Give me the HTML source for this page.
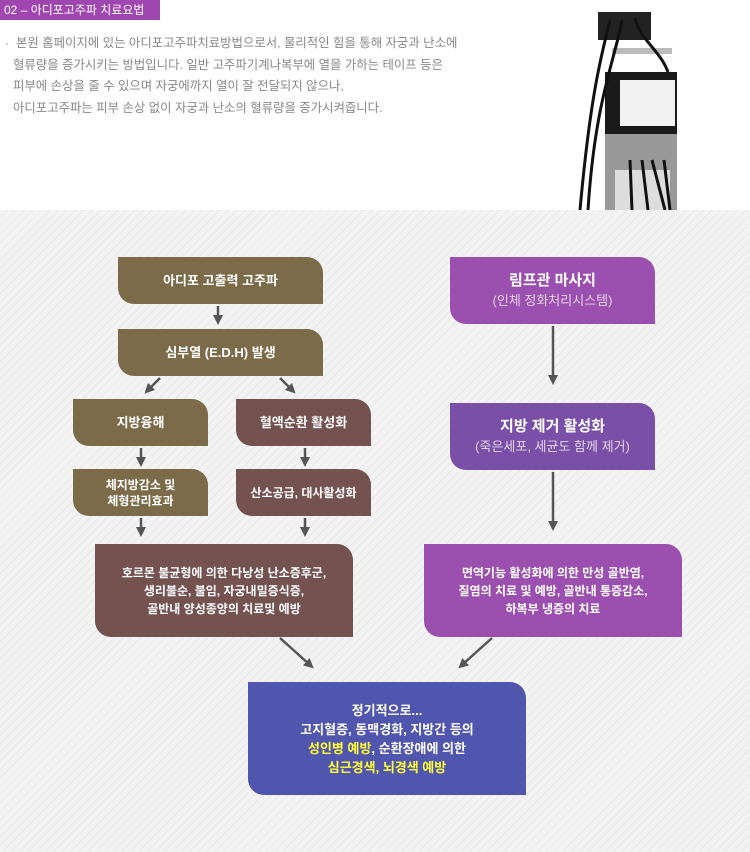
<!DOCTYPE html>
<html><head><meta charset="utf-8"><style>
body{margin:0;width:750px;height:852px;position:relative;overflow:hidden;background:#fff;font-family:"Liberation Sans","Noto Sans CJK KR",sans-serif}
.bg{position:absolute;left:0;top:210px;width:750px;height:642px;background:repeating-linear-gradient(135deg,#f3f3f3 0 5px,#e9e9e9 5px 6px)}
.b{position:absolute;color:#fff;display:flex;flex-direction:column;align-items:center;justify-content:center;text-align:center;border-radius:0 16px 0 16px;font-weight:bold;font-size:13px;line-height:18px}
.br{background:#7b6b48}.rd{background:#735250}.pu{background:#9b4fae}.pu2{background:#7a4fa8}.bl{background:#5055ae}
.s{font-weight:normal;color:#e6d4ee;font-size:13px}
.y{color:#ffff33}
p{margin:0}
</style></head><body>
<div style="position:absolute;left:0;top:0;width:160px;height:20px;background:#a046b0;color:#fff;font-size:12px;line-height:20px;padding-left:4px;box-sizing:border-box">02 – 아디포고주파 치료요법</div>
<div style="position:absolute;left:5px;top:33px;color:#888;font-size:12.4px;line-height:21.5px">
<div>·&nbsp;&nbsp;본원 홈페이지에 있는 아디포고주파치료방법으로서, 물리적인 힘을 통해 자궁과 난소에</div>
<div style="padding-left:8px">혈류량을 증가시키는 방법입니다. 일반 고주파기계나복부에 열을 가하는 테이프 등은</div>
<div style="padding-left:8px">피부에 손상을 줄 수 있으며 자궁에까지 열이 잘 전달되지 않으나,</div>
<div style="padding-left:8px">아디포고주파는 피부 손상 없이 자궁과 난소의 혈류량을 증가시켜줍니다.</div></div>
<svg style="position:absolute;left:560px;top:0" width="120" height="210">
<rect x="38" y="12" width="53" height="28" fill="#222"/>
<rect x="52" y="48" width="60" height="6" fill="#bbb"/>
<rect x="45" y="72" width="72" height="62" fill="#1a1a1a"/>
<rect x="60" y="80" width="55" height="46" fill="#f2f2f2"/>
<rect x="45" y="134" width="72" height="76" fill="#999"/>
<rect x="55" y="170" width="55" height="40" fill="#ddd"/>
<path d="M50 20 C40 60 30 100 20 210 M62 20 C55 60 35 100 28 210 M75 18 C80 40 100 50 108 72 M70 160 L72 210 M82 160 L88 210 M92 160 L105 210 M104 160 L110 210" stroke="#111" stroke-width="3" fill="none"/>
</svg>
<div class="bg"></div>
<svg style="position:absolute;left:0;top:0" width="750" height="852">
<defs><marker id="a" markerWidth="4" markerHeight="4" refX="2" refY="2" orient="auto"><path d="M0,0 L4,2 L0,4 z" fill="#555"/></marker></defs>
<g stroke="#555" stroke-width="2.5" marker-end="url(#a)" fill="none">
<line x1="218" y1="306" x2="218" y2="320"/>
<line x1="160" y1="378" x2="148" y2="390"/>
<line x1="280" y1="378" x2="292" y2="390"/>
<line x1="141" y1="448" x2="141" y2="462"/>
<line x1="305" y1="448" x2="305" y2="462"/>
<line x1="141" y1="518" x2="141" y2="532"/>
<line x1="305" y1="518" x2="305" y2="532"/>
<line x1="553" y1="326" x2="553" y2="380"/>
<line x1="553" y1="472" x2="553" y2="526"/>
<line x1="280" y1="638" x2="310" y2="665"/>
<line x1="492" y1="638" x2="462" y2="665"/>
</g></svg>
<div class="b br" style="left:118px;top:257px;width:205px;height:47px">아디포 고출력 고주파</div>
<div class="b br" style="left:118px;top:329px;width:205px;height:47px">심부열 (E.D.H) 발생</div>
<div class="b br" style="left:73px;top:399px;width:135px;height:47px">지방융해</div>
<div class="b rd" style="left:236px;top:399px;width:135px;height:47px">혈액순환 활성화</div>
<div class="b br" style="left:73px;top:469px;width:135px;height:47px;font-size:12px;line-height:16px">체지방감소 및<br>체형관리효과</div>
<div class="b rd" style="left:236px;top:469px;width:135px;height:47px;font-size:12px">산소공급, 대사활성화</div>
<div class="b rd" style="left:95px;top:544px;width:258px;height:93px;font-size:12px;line-height:18px">호르몬 불균형에 의한 다낭성 난소증후군,<br>생리불순, 불임, 자궁내밀증식증,<br>골반내 양성종양의 치료및 예방</div>
<div class="b pu" style="left:450px;top:257px;width:205px;height:67px;font-size:15px;line-height:20px">림프관 마사지<span class="s">(인체 정화처리시스템)</span></div>
<div class="b pu2" style="left:450px;top:403px;width:205px;height:67px;font-size:15px;line-height:20px">지방 제거 활성화<span class="s">(죽은세포, 세균도 함께 제거)</span></div>
<div class="b pu" style="left:424px;top:544px;width:258px;height:93px;font-size:12px;line-height:18px">면역기능 활성화에 의한 만성 골반염,<br>질염의 치료 및 예방, 골반내 통증감소,<br>하복부 냉증의 치료</div>
<div class="b bl" style="left:248px;top:682px;width:278px;height:113px;font-size:13px;line-height:19px">정기적으로...<br>고지혈증, 동맥경화, 지방간 등의<br><span><span class="y">성인병 예방</span>, 순환장애에 의한</span><span class="y">심근경색, 뇌경색 예방</span></div>
</body></html>
